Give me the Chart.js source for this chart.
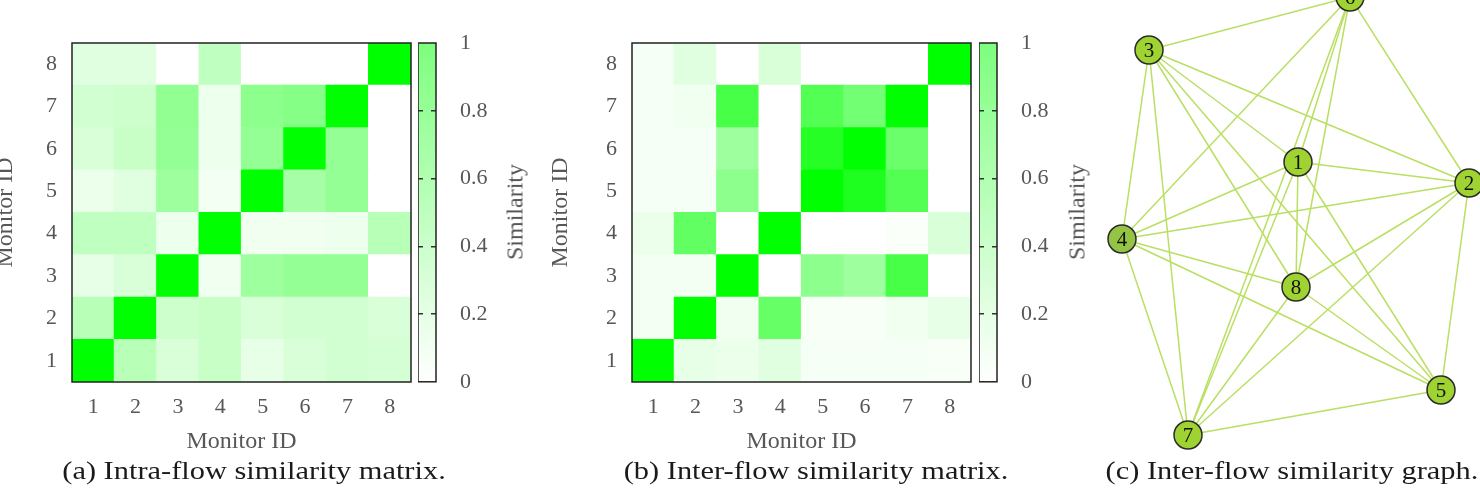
<!DOCTYPE html>
<html>
<head>
<meta charset="utf-8">
<script src="https://cdn.jsdelivr.net/npm/chart.js@4.4.1/dist/chart.umd.min.js"></script>
<style>
  body { margin: 0; width: 1480px; height: 494px; overflow: hidden; background: #fff; position: relative; font-family: "Liberation Serif", serif; }
  canvas { position: absolute; top: 0; }
  .cap { position: absolute; top: 456px; font-size: 26px; color: #1a1a1a; white-space: nowrap; transform: translateX(-50%) scaleX(1.17); }
  .side { position: absolute; top: 212px; font-size: 24px; color: #575757; white-space: nowrap; transform: translate(-50%, -50%) rotate(-90deg); }
</style>
</head>
<body>
<canvas id="matA" width="431" height="460" style="left:-15px"></canvas>
<canvas id="barA" width="117" height="419" style="left:418px"></canvas>
<canvas id="matB" width="431" height="460" style="left:545px"></canvas>
<canvas id="barB" width="117" height="419" style="left:979px"></canvas>
<canvas id="graph" width="380" height="494" style="left:1100px"></canvas>
<div class="side" style="left:515px">Similarity</div>
<div class="side" style="left:1077px">Similarity</div>
<div class="cap" style="left:254px">(a) Intra-flow similarity matrix.</div>
<div class="cap" style="left:816px">(b) Inter-flow similarity matrix.</div>
<div class="cap" style="left:1292px">(c) Inter-flow similarity graph.</div>
<script>
// monitor ids (x columns and y rows)
const monitorIds = [1, 2, 3, 4, 5, 6, 7, 8];

// similarity values, one row per y monitor (1 at bottom), columns = x monitor
const intraFlow = [
  [1.00, 0.28, 0.15, 0.22, 0.10, 0.15, 0.18, 0.17],
  [0.28, 1.00, 0.20, 0.22, 0.15, 0.18, 0.18, 0.15],
  [0.10, 0.15, 1.00, 0.06, 0.38, 0.42, 0.42, 0.00],
  [0.25, 0.25, 0.07, 1.00, 0.06, 0.06, 0.07, 0.28],
  [0.08, 0.12, 0.38, 0.05, 1.00, 0.35, 0.42, 0.00],
  [0.15, 0.22, 0.42, 0.07, 0.42, 1.00, 0.42, 0.00],
  [0.18, 0.20, 0.43, 0.07, 0.45, 0.48, 1.00, 0.00],
  [0.12, 0.12, 0.00, 0.25, 0.00, 0.00, 0.00, 1.00]
];
const interFlow = [
  [1.00, 0.10, 0.08, 0.12, 0.04, 0.04, 0.04, 0.03],
  [0.05, 1.00, 0.06, 0.60, 0.03, 0.03, 0.06, 0.10],
  [0.05, 0.05, 1.00, 0.00, 0.45, 0.38, 0.72, 0.00],
  [0.08, 0.62, 0.00, 1.00, 0.00, 0.00, 0.02, 0.15],
  [0.04, 0.04, 0.45, 0.00, 1.00, 0.88, 0.68, 0.00],
  [0.04, 0.04, 0.38, 0.00, 0.85, 1.00, 0.58, 0.00],
  [0.04, 0.06, 0.72, 0.00, 0.68, 0.55, 1.00, 0.00],
  [0.04, 0.12, 0.00, 0.15, 0.00, 0.00, 0.00, 1.00]
];

// colour bar ticks
const similarityTicks = [0, 0.2, 0.4, 0.6, 0.8, 1];

// graph layout (node positions) and edges
const nodeLabels = ['1', '2', '3', '4', '5', '6', '7', '8'];
const nodeX = [198, 369, 49, 22, 341, 250, 88, 196];
const nodeY = [162, 183, 50, 239, 390, -3, 435, 287];
const edgeFrom = [3, 3, 3, 3, 3, 3, 3, 6, 6, 6, 6, 6, 1, 1, 1, 1, 1, 2, 2, 2, 2, 4, 4, 4, 8, 8, 7];
const edgeTo   = [6, 2, 1, 8, 5, 7, 4, 4, 1, 7, 8, 2, 2, 4, 8, 7, 5, 4, 8, 7, 5, 8, 5, 7, 7, 5, 5];

const tickFont = { family: 'Liberation Serif', size: 22 };
const titleFont = { family: 'Liberation Serif', size: 24 };
const textGrey = '#575757';

function cellColor(v) {
  const c = Math.round(255 * (1 - v));
  return 'rgb(' + c + ',255,' + c + ')';
}

// black box round the plot area
const frame = {
  id: 'frame',
  afterDraw(chart) {
    const a = chart.chartArea;
    const ctx = chart.ctx;
    ctx.save();
    ctx.strokeStyle = '#222';
    ctx.lineWidth = 1.5;
    ctx.strokeRect(a.left, a.top, a.right - a.left, a.bottom - a.top);
    ctx.restore();
  }
};

function heatmap(id, values, yTitlePad) {
  new Chart(document.getElementById(id), {
    type: 'bar',
    data: {
      labels: monitorIds.map(String),
      datasets: monitorIds.map((row, r) => ({
        data: monitorIds.map(() => [row - 0.5, row + 0.5]),
        backgroundColor: values[r].map(cellColor),
        grouped: false,
        barPercentage: 1,
        categoryPercentage: 1,
        borderWidth: 0,
        inflateAmount: 0.6
      }))
    },
    options: {
      responsive: false,
      animation: false,
      events: [],
      layout: { padding: { top: 43, right: 5 } },
      plugins: { legend: { display: false }, tooltip: { enabled: false } },
      scales: {
        x: {
          grid: { display: false },
          border: { display: false },
          ticks: { font: tickFont, color: textGrey, padding: 4 },
          title: { display: true, text: 'Monitor ID', font: titleFont, color: textGrey, padding: { top: 0, bottom: 4 } },
          afterFit: s => { s.height = 78; }
        },
        y: {
          min: 0.5,
          max: 8.5,
          afterBuildTicks: s => { s.ticks = monitorIds.map(v => ({ value: v })); },
          grid: { display: false },
          border: { display: false },
          ticks: { font: tickFont, color: textGrey, padding: 7 },
          title: { display: true, text: 'Monitor ID', font: titleFont, color: textGrey, padding: { top: yTitlePad, bottom: 0 } },
          afterFit: s => { s.width = 87; }
        }
      }
    },
    plugins: [frame]
  });
}

function colorBar(id) {
  new Chart(document.getElementById(id), {
    type: 'bar',
    data: {
      labels: [''],
      datasets: [{
        data: [[0, 1]],
        backgroundColor: ctx => {
          const a = ctx.chart.chartArea;
          if (!a) return '#fff';
          const g = ctx.chart.ctx.createLinearGradient(0, a.bottom, 0, a.top);
          g.addColorStop(0, '#ffffff');
          g.addColorStop(1, 'rgb(125,255,125)');
          return g;
        },
        barPercentage: 1,
        categoryPercentage: 1,
        borderWidth: 0
      }]
    },
    options: {
      responsive: false,
      animation: false,
      events: [],
      layout: { padding: { top: 43, bottom: 0 }, autoPadding: false },
      plugins: { legend: { display: false }, tooltip: { enabled: false } },
      scales: {
        x: {
          grid: { display: false },
          border: { display: false },
          ticks: { display: false },
          afterFit: s => { s.height = 18; }
        },
        y: {
          position: 'right',
          min: 0,
          max: 1,
          afterBuildTicks: s => { s.ticks = similarityTicks.map(v => ({ value: v })); },
          grid: {
            z: 1,
            drawTicks: false,
            lineWidth: 1.5,
            color: c => (c.tick && c.tick.value > 0 && c.tick.value < 1) ? '#333' : 'rgba(0,0,0,0)'
          },
          border: { display: false, dash: [5, 8] },
          ticks: { font: tickFont, color: textGrey, padding: 24, callback: v => String(+v.toFixed(1)) },
          afterFit: s => { s.width = 99; }
        }
      }
    },
    plugins: [frame]
  });
}

// node numbers written inside the circles
const nodeText = {
  id: 'nodeText',
  afterDatasetsDraw(chart) {
    const meta = chart.getDatasetMeta(0);
    const ctx = chart.ctx;
    ctx.save();
    ctx.font = '21px "Liberation Serif"';
    ctx.fillStyle = '#111';
    ctx.textAlign = 'center';
    ctx.textBaseline = 'middle';
    meta.data.forEach((p, i) => ctx.fillText(nodeLabels[i], p.x, p.y + 1));
    ctx.restore();
  }
};

function graph(id) {
  const pts = nodeLabels.map((l, i) => ({ x: nodeX[i], y: nodeY[i] }));
  const datasets = [{
    data: pts,
    pointRadius: 14,
    pointBackgroundColor: nodeLabels.map(l => l === '4' ? '#94c443' : '#9fd332'),
    pointBorderColor: '#2b2b2b',
    pointBorderWidth: 1.5,
    showLine: false,
    clip: false
  }];
  edgeFrom.forEach((f, i) => {
    datasets.push({
      data: [pts[f - 1], pts[edgeTo[i] - 1]],
      showLine: true,
      borderColor: '#b9df63',
      borderWidth: 1.5,
      pointRadius: 0,
      clip: false
    });
  });
  new Chart(document.getElementById(id), {
    type: 'scatter',
    data: { datasets: datasets },
    options: {
      responsive: false,
      animation: false,
      events: [],
      layout: { padding: 0, autoPadding: false },
      plugins: { legend: { display: false }, tooltip: { enabled: false } },
      scales: {
        x: { display: false, min: 0, max: 380 },
        y: { display: false, min: 0, max: 494, reverse: true }
      }
    },
    plugins: [nodeText]
  });
}

function createCharts() {
  heatmap('matA', intraFlow, 6);
  colorBar('barA');
  heatmap('matB', interFlow, 1);
  colorBar('barB');
  graph('graph');
}

if (typeof Chart === 'undefined') {
  window.addEventListener('load', createCharts);
} else {
  createCharts();
}
</script>
</body>
</html>
